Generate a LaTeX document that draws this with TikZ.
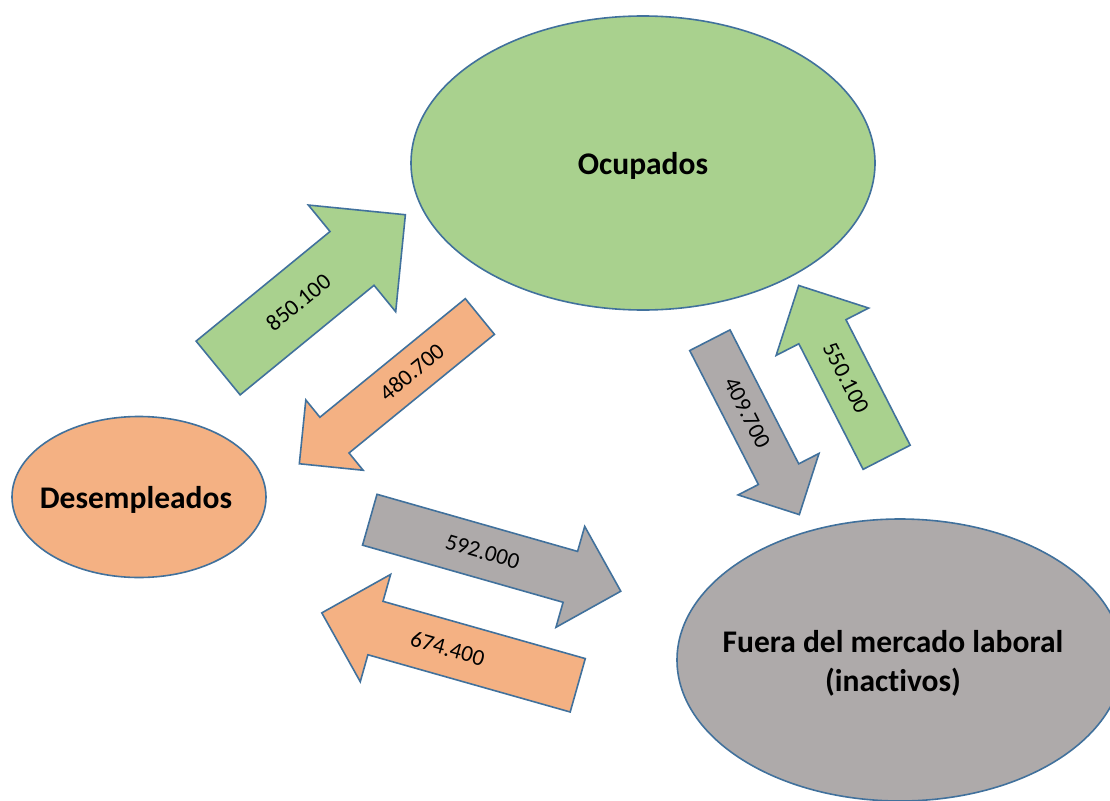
\documentclass[tikz,border=0pt]{standalone}
\usepackage{fontspec}
\setmainfont{Carlito}[Ligatures=NoCommon]
\usetikzlibrary{shapes.geometric, shapes.arrows}

\definecolor{verde}{HTML}{A9D18E}
\definecolor{naranja}{HTML}{F4B183}
\definecolor{gris}{HTML}{AEAAAA}
\definecolor{borde}{HTML}{41719C}

\begin{document}
\begin{tikzpicture}[
    x=1pt, y=-1pt,
    % elipses de los estados (el texto va como label para no agrandar la elipse)
    estado/.style={ellipse, draw=borde, line width=1.6pt, inner sep=0pt},
    rotulo/.style={font=\fontsize{31.5}{39}\selectfont\bfseries, align=center, yshift=-3},
    % flechas de flujo (anchor=tail en la cola)
    flujo/.style={single arrow, draw=borde, line width=1.6pt, anchor=tail,
        single arrow tip angle=90, inner xsep=0pt,
        font=\fontsize{23}{26}\selectfont}
]

% --- 1. marco ---
\useasboundingbox (0,0) rectangle (1110,800);
\clip (0,0) rectangle (1110,800);

% --- 2. estados ---
\node[estado, fill=verde, minimum width=464, minimum height=294,
    label={[rotulo]center:Ocupados}] (ocup) at (643,163) {};
\node[estado, fill=naranja, minimum width=254, minimum height=161,
    label={[rotulo, xshift=-3]center:Desempleados}] (desemp) at (139,497) {};
\node[estado, fill=gris, minimum width=446, minimum height=282,
    label={[rotulo, xshift=-7]center:Fuera del mercado laboral\\(inactivos)}] (inact) at (900,660) {};

% --- 3. flujos ---
% Desempleados -> Ocupados
\node[flujo, fill=verde, rotate=39.3, inner ysep=26,
    single arrow head extend=34.2, minimum height=242] (f1) at (217.5,368.5) {850.100};
% Ocupados -> Desempleados
\node[flujo, fill=naranja, rotate=39.2, shape border rotate=180, inner ysep=14.3,
    single arrow head extend=22.3, minimum height=233] (f2) at (480.5,316) {\hspace*{34pt}480.700};

% Ocupados -> Inactivos
\node[flujo, fill=gris, rotate=-62.85, inner ysep=14.3,
    single arrow head extend=22.8, minimum height=196] (f3) at (709.5,339.5) {409.700\hspace*{10pt}};
% Inactivos -> Ocupados
\node[flujo, fill=verde, rotate=-62.9, shape border rotate=180, inner ysep=18.1,
    single arrow head extend=25.5, minimum height=193] (f4) at (887,458) {550.100\hspace*{12pt}};

% Desempleados -> Inactivos
\node[flujo, fill=gris, rotate=-15.9, inner ysep=18.1,
    single arrow head extend=26, minimum height=261] (f5) at (369,519.5) {592.000};
% Inactivos -> Desempleados
\node[flujo, fill=naranja, rotate=-15.8, shape border rotate=180, inner ysep=19.1,
    single arrow head extend=28, minimum height=266] (f6) at (578.5,685.5) {674.400\hspace*{32pt}};

\end{tikzpicture}
\end{document}
